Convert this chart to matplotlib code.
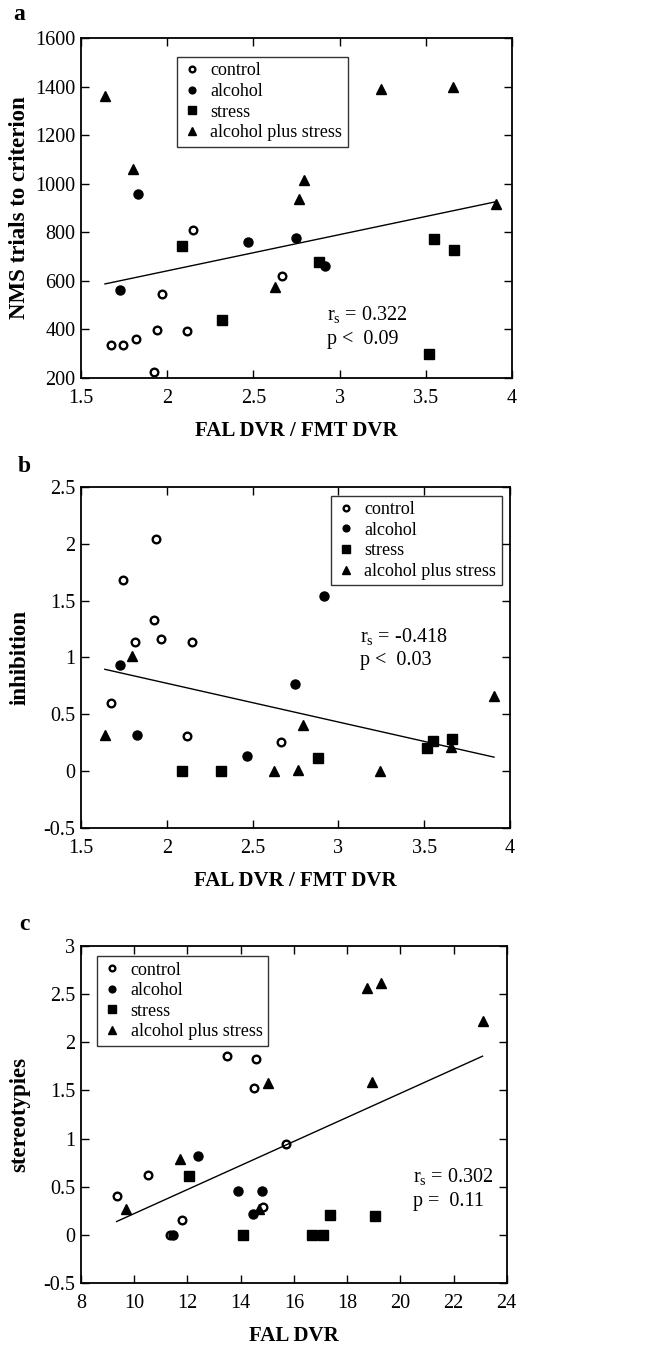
import matplotlib
matplotlib.use("Agg")
import matplotlib.pyplot as plt
import numpy as np

plt.rcParams['font.family'] = ['Liberation Serif', 'DejaVu Serif']
plt.rcParams['mathtext.fontset'] = 'custom'
plt.rcParams['mathtext.rm'] = 'Liberation Serif'

# FAL DVR / FMT DVR ratio per group (shared by panels a and b)
ctrl_ratio = [1.675, 1.746, 1.817, 1.924, 1.939, 1.968, 2.117, 2.148, 2.665]
alc_ratio = [1.726, 1.829, 2.467, 2.748, 2.918]
str_ratio = [2.088, 2.316, 2.880, 3.518, 3.550, 3.663]
aps_ratio = [1.639, 1.799, 2.623, 2.765, 2.796, 3.242, 3.659, 3.907]

# panel a: NMS trials to criterion
ctrl_nms = [337, 337, 362, 225, 396, 546, 392, 809, 620]
alc_nms = [564, 958, 759, 775, 660]
str_nms = [744, 440, 679, 300, 774, 726]
aps_nms = [1363, 1062, 574, 938, 1017, 1390, 1397, 918]

# panel b: inhibition
ctrl_inh = [0.60, 1.677, 1.137, 1.325, 2.045, 1.163, 0.305, 1.137, 0.252]
alc_inh = [0.931, 0.314, 0.129, 0.769, 1.542]
str_inh = [0.0, 0.0, 0.111, 0.202, 0.267, 0.284]
aps_inh = [0.32, 1.016, 0.0, 0.01, 0.402, 0.0, 0.214, 0.663]

# panel c: FAL DVR vs stereotypies
ctrl_fal = [9.34, 10.53, 11.33, 11.78, 13.50, 14.49, 14.58, 14.83, 15.71]
ctrl_ster = [0.40, 0.62, 0.0, 0.15, 1.86, 1.53, 1.83, 0.29, 0.94]
alc_fal = [11.45, 12.40, 13.90, 14.45, 14.79]
alc_ster = [0.0, 0.82, 0.46, 0.22, 0.46]
str_fal = [12.05, 14.10, 16.67, 17.10, 17.34, 19.04]
str_ster = [0.61, 0.0, 0.0, 0.0, 0.21, 0.20]
aps_fal = [9.68, 11.72, 14.70, 15.03, 18.74, 18.95, 19.27, 23.09]
aps_ster = [0.27, 0.79, 0.27, 1.58, 2.56, 1.59, 2.62, 2.22]

labels = ['control', 'alcohol', 'stress', 'alcohol plus stress']
stats = ['r$_{\\mathregular{s}}$ = 0.322\np <  0.09',
         'r$_{\\mathregular{s}}$ = -0.418\np <  0.03',
         'r$_{\\mathregular{s}}$ = 0.302\np =  0.11']

fig = plt.figure(figsize=(6.49, 13.48), dpi=100)
ax_a = fig.add_axes([0.1248, 0.7196, 0.664, 0.2522])
ax_b = fig.add_axes([0.1248, 0.3858, 0.661, 0.2530])
ax_c = fig.add_axes([0.1248, 0.0482, 0.656, 0.2500])


def scatter_groups(ax, xs, ys):
    ax.plot(xs[0], ys[0], 'o', ms=5.5, mfc='white', mec='black', mew=1.7, ls='none', label=labels[0])
    ax.plot(xs[1], ys[1], 'o', ms=6.5, color='black', ls='none', label=labels[1])
    ax.plot(xs[2], ys[2], 's', ms=7.5, color='black', ls='none', label=labels[2])
    ax.plot(xs[3], ys[3], '^', ms=7.5, color='black', ls='none', label=labels[3])
    # least-squares line over the pooled groups
    allx = np.concatenate([np.asarray(v, float) for v in xs])
    ally = np.concatenate([np.asarray(v, float) for v in ys])
    k, b = np.polyfit(allx, ally, 1)
    xx = np.array([allx.min(), allx.max()])
    ax.plot(xx, k * xx + b, color='black', lw=1.0)


def style(ax, xlab, ylab, lx):
    ax.tick_params(direction='in', top=True, right=True, length=6, width=1,
                   labelsize=14.5)
    ax.tick_params(axis='x', pad=8)
    ax.tick_params(axis='y', pad=4)
    for s in ax.spines.values():
        s.set_linewidth(1.3)
    ax.set_xlabel(xlab, fontsize=15, fontweight='bold', labelpad=9)
    ax.set_ylabel(ylab, fontsize=16.5, fontweight='bold')
    ax.yaxis.set_label_coords(lx, 0.5)


def legend(ax, bbox):
    lg = ax.legend(loc='upper left', bbox_to_anchor=bbox, fontsize=13, frameon=True,
                   fancybox=False, edgecolor='black', handletextpad=0.55,
                   handlelength=1.0, borderpad=0.3, labelspacing=0.2,
                   borderaxespad=0, markerscale=0.75)
    lg.get_frame().set_linewidth(1.0)


scatter_groups(ax_a, [ctrl_ratio, alc_ratio, str_ratio, aps_ratio],
               [ctrl_nms, alc_nms, str_nms, aps_nms])
ax_a.set_xlim(1.5, 4)
ax_a.set_ylim(200, 1600)
ax_a.set_xticks([1.5, 2, 2.5, 3, 3.5, 4])
ax_a.set_xticklabels(['1.5', '2', '2.5', '3', '3.5', '4'])
legend(ax_a, (0.223, 0.944))
ax_a.text(0.571, 0.15, stats[0], transform=ax_a.transAxes, fontsize=14.5,
          linespacing=1.25, va='center')
style(ax_a, 'FAL DVR / FMT DVR', 'NMS trials to criterion', -0.118)

scatter_groups(ax_b, [ctrl_ratio, alc_ratio, str_ratio, aps_ratio],
               [ctrl_inh, alc_inh, str_inh, aps_inh])
ax_b.set_xlim(1.5, 4)
ax_b.set_ylim(-0.5, 2.5)
ax_b.set_xticks([1.5, 2, 2.5, 3, 3.5, 4])
ax_b.set_xticklabels(['1.5', '2', '2.5', '3', '3.5', '4'])
ax_b.set_yticks([-0.5, 0, 0.5, 1, 1.5, 2, 2.5])
ax_b.set_yticklabels(['-0.5', '0', '0.5', '1', '1.5', '2', '2.5'])
legend(ax_b, (0.583, 0.974))
ax_b.text(0.65, 0.527, stats[1], transform=ax_b.transAxes, fontsize=14.5,
          linespacing=1.25, va='center')
style(ax_b, 'FAL DVR / FMT DVR', 'inhibition', -0.118)

scatter_groups(ax_c, [ctrl_fal, alc_fal, str_fal, aps_fal],
               [ctrl_ster, alc_ster, str_ster, aps_ster])
ax_c.set_xlim(8, 24)
ax_c.set_ylim(-0.5, 3)
ax_c.set_xticks([8, 10, 12, 14, 16, 18, 20, 22, 24])
ax_c.set_yticks([-0.5, 0, 0.5, 1, 1.5, 2, 2.5, 3])
ax_c.set_yticklabels(['-0.5', '0', '0.5', '1', '1.5', '2', '2.5', '3'])
legend(ax_c, (0.038, 0.970))
ax_c.text(0.779, 0.28, stats[2], transform=ax_c.transAxes, fontsize=14.5,
          linespacing=1.25, va='center')
style(ax_c, 'FAL DVR', 'stereotypies', -0.12)

fig.text(13 / 649, 1 - 15 / 1348, 'a', fontsize=17, fontweight='bold', va='center')
fig.text(18 / 649, 1 - 466 / 1348, 'b', fontsize=17, fontweight='bold', va='center')
fig.text(19 / 649, 1 - 925 / 1348, 'c', fontsize=17, fontweight='bold', va='center')

fig.savefig('out.png', dpi=100)
